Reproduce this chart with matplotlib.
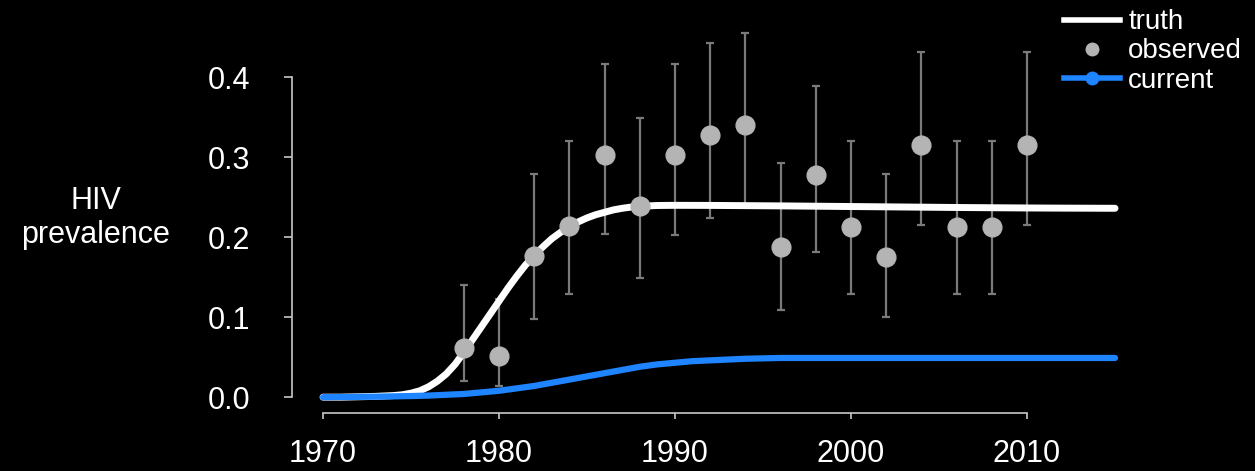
import numpy as np
import matplotlib
matplotlib.use("Agg")
import matplotlib.pyplot as plt
from matplotlib.lines import Line2D

plt.rcParams['font.family'] = ['Liberation Sans', 'DejaVu Sans']

# truth curve (half years through the steep part)
truth_years = [1970, 1971, 1972, 1973,
               1974, 1974.5, 1975, 1975.5, 1976, 1976.5, 1977, 1977.5,
               1978, 1978.5, 1979, 1979.5, 1980, 1980.5, 1981, 1981.5,
               1982, 1982.5, 1983, 1983.5, 1984, 1984.5, 1985, 1985.5,
               1986, 1986.5, 1987, 1987.5, 1988, 1988.5, 1989,
               1990, 1992, 1994, 1996, 1998, 2000, 2002, 2004, 2006,
               2008, 2010, 2012, 2015]
truth = [0.0, 0.0, 0.0005, 0.001,
         0.002, 0.003, 0.005, 0.008, 0.013, 0.02, 0.029, 0.041,
         0.056, 0.072, 0.088, 0.104, 0.12, 0.136, 0.151, 0.165,
         0.177, 0.188, 0.198, 0.206, 0.213, 0.219, 0.224, 0.228,
         0.231, 0.234, 0.236, 0.2375, 0.2385, 0.239, 0.2395,
         0.2397, 0.2396, 0.2393, 0.239, 0.2386, 0.2382, 0.2378, 0.2374, 0.237,
         0.2367, 0.2364, 0.2362, 0.236]

# current model curve, one value per year
current_years = list(range(1970, 2016))
current = [0.0, 0.0002, 0.0004, 0.0006, 0.001, 0.0014, 0.002, 0.003, 0.004, 0.006,
           0.008, 0.011, 0.014, 0.018, 0.022, 0.026, 0.03, 0.034, 0.038, 0.041,
           0.043, 0.045, 0.046, 0.047, 0.048, 0.0485, 0.049, 0.049, 0.049, 0.049,
           0.049, 0.049, 0.049, 0.049, 0.049, 0.049, 0.049, 0.049, 0.049, 0.049,
           0.049, 0.049, 0.049, 0.049, 0.049, 0.049]

# observed prevalence with intervals
obs_years = [1978, 1980, 1982, 1984, 1986, 1988, 1990, 1992, 1994, 1996,
             1998, 2000, 2002, 2004, 2006, 2008, 2010]
observed = [0.062, 0.051, 0.177, 0.214, 0.302, 0.239, 0.302, 0.327, 0.340, 0.1875,
            0.277, 0.2125, 0.175, 0.315, 0.2125, 0.2125, 0.315]
obs_low = [0.020, 0.014, 0.098, 0.129, 0.204, 0.149, 0.203, 0.224, 0.238, 0.109,
           0.181, 0.129, 0.100, 0.215, 0.129, 0.129, 0.215]
obs_high = [0.140, 0.123, 0.279, 0.320, 0.416, 0.349, 0.416, 0.442, 0.455, 0.2925,
            0.389, 0.320, 0.279, 0.431, 0.320, 0.320, 0.431]

white = 'white'
blue = '#1e84ff'
dot_grey = '#b4b4b4'
bar_grey = '#7a7a7a'
axis_grey = '#c8c8c8'

fig = plt.figure(figsize=(12.55, 4.71), dpi=100, facecolor='black')
ax = fig.add_axes([0.2327, 0.1231, 0.6698, 0.8323], facecolor='black')

obs = np.array(observed)
yerr = [obs - np.array(obs_low), np.array(obs_high) - obs]
ax.errorbar(obs_years, observed, yerr=yerr, fmt='none', ecolor=bar_grey,
            elinewidth=1.6, capsize=3, capthick=1.6, zorder=1)
ax.plot(truth_years, truth, color=white, lw=5, solid_capstyle='round',
        solid_joinstyle='round', zorder=2)
ax.plot(current_years, current, color=blue, lw=4.5, solid_capstyle='round',
        solid_joinstyle='round', zorder=3)
ax.plot(obs_years, observed, 'o', color=dot_grey, ms=13.5, zorder=4)

ax.set_xlim(1968.24, 2016)
ax.set_ylim(-0.0198, 0.47)

ax.set_xticks([1970, 1980, 1990, 2000, 2010])
ax.set_yticks([0.0, 0.1, 0.2, 0.3, 0.4])
ax.set_yticklabels(['0.0', '0.1', '0.2', '0.3', '0.4'])

for s in ['top', 'right']:
    ax.spines[s].set_visible(False)
ax.spines['left'].set_bounds(0, 0.4)
ax.spines['bottom'].set_bounds(1970, 2010)
for s in ['left', 'bottom']:
    ax.spines[s].set_color(axis_grey)
    ax.spines[s].set_linewidth(1.2)

ax.tick_params(axis='y', colors=axis_grey, labelcolor='white', labelsize=22,
               length=6, width=1.2, pad=24)
ax.tick_params(axis='x', colors=axis_grey, labelcolor='white', labelsize=22,
               length=4.5, width=1.2, pad=14)

fig.text(96 / 1255, 1 - 218 / 471, 'HIV\nprevalence', color='white', fontsize=22,
         ha='center', va='center', multialignment='center', linespacing=1.15)

handles = [
    Line2D([], [], color=white, lw=4),
    Line2D([], [], ls='none', marker='o', color=dot_grey, ms=9),
    Line2D([], [], color=blue, lw=4, marker='o', ms=9),
]
leg = fig.legend(handles, ['truth', 'observed', 'current'], loc='upper left',
                 bbox_to_anchor=(1063 / 1255, 0.983), frameon=False, fontsize=20,
                 handlelength=2.0, handletextpad=0.3, labelspacing=0.11,
                 borderpad=0.05, borderaxespad=0)
for t in leg.get_texts():
    t.set_color('white')

fig.savefig('out.png', dpi=100, facecolor='black')
